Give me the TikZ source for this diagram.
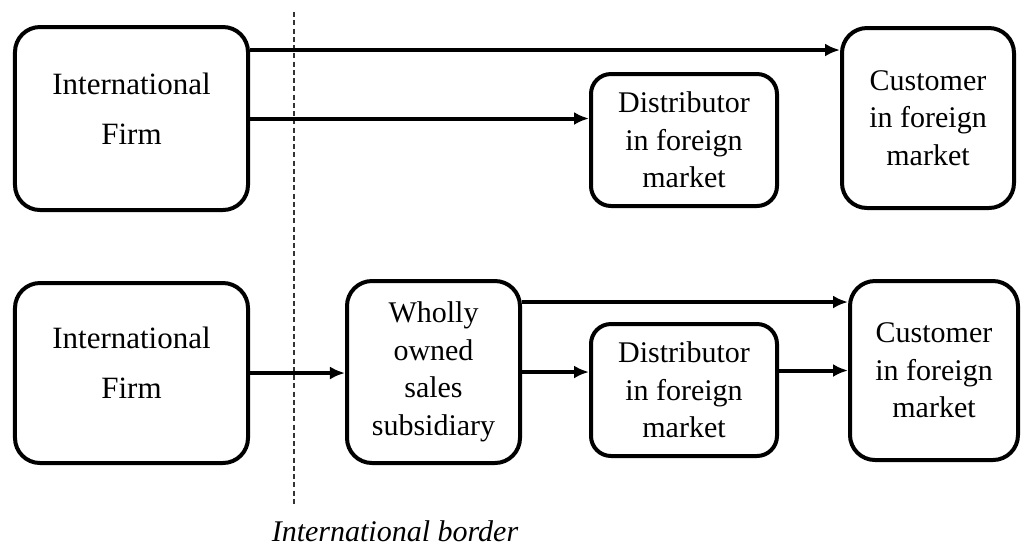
\documentclass[tikz,border=0pt]{standalone}
\usepackage{fontspec}
\setmainfont{Liberation Serif}
\usepackage{tikz}
\usetikzlibrary{arrows.meta}

\begin{document}
\begin{tikzpicture}[x=0.4pt, y=-0.4pt]
    \tikzset{box/.style = {shape=rectangle, draw, line width=1.6pt, rounded corners=10pt, align=center, font=\fontsize{12}{15}\selectfont}}
    \tikzset{firm/.style = {box, minimum width=93.2pt, text depth=8pt, font=\fontsize{12.4}{20}\selectfont}}
    \tikzset{dist/.style = {box, rounded corners=8pt, minimum width=74.4pt, minimum height=52.8pt}}
    \tikzset{edge/.style = {draw, line width=1.6pt, -{Latex[length=6pt, width=5.2pt]}}}
    \tikzset{border/.style = {draw=black!80, line width=0.6pt, dash pattern=on 2pt off 1.3pt}}

    \useasboundingbox (0,0) rectangle (1022,549);

    % vertices
    \node[firm, minimum height=73.2pt] (firm1) at (131.5,118.5) {International\\Firm};
    \node[dist] (dist1) at (684,140) {Distributor\\in foreign\\market};
    \node[box, minimum width=68.8pt, minimum height=72pt] (cust1) at (928,118) {Customer\\in foreign\\market};

    \node[firm, minimum height=72pt] (firm2) at (131.5,373) {International\\Firm};
    \node[box, minimum width=69.2pt, minimum height=72.8pt] (whol) at (433.5,372) {Wholly\\owned\\sales\\subsidiary};
    \node[dist] (dist2) at (684,390) {Distributor\\in foreign\\market};
    \node[box, minimum width=67.2pt, minimum height=71.6pt] (cust2) at (934,370.5) {Customer\\in foreign\\market};

    % border
    \coordinate (btop) at (294,12);
    \coordinate (bbot) at (294,505);
    \draw[border] (btop) -- (bbot);
    \node[anchor=base, font=\fontsize{12}{15}\selectfont\itshape] (blabel) at (395,541) {International border};

    % edges
    \draw[edge] ([yshift=27.4pt]firm1.east) -- ([yshift=27.2pt]cust1.west);
    \draw[edge] (firm1.east) -- (firm1.east -| dist1.west);
    \draw[edge] (firm2.east) -- (firm2.east -| whol.west);
    \draw[edge] ([yshift=28pt]whol.east) -- ([yshift=28pt]whol.east -| cust2.west);
    \draw[edge] (whol.east) -- (whol.east -| dist2.west);
    \draw[edge] (dist2.east |- cust2.west) -- (cust2.west);
\end{tikzpicture}
\end{document}
